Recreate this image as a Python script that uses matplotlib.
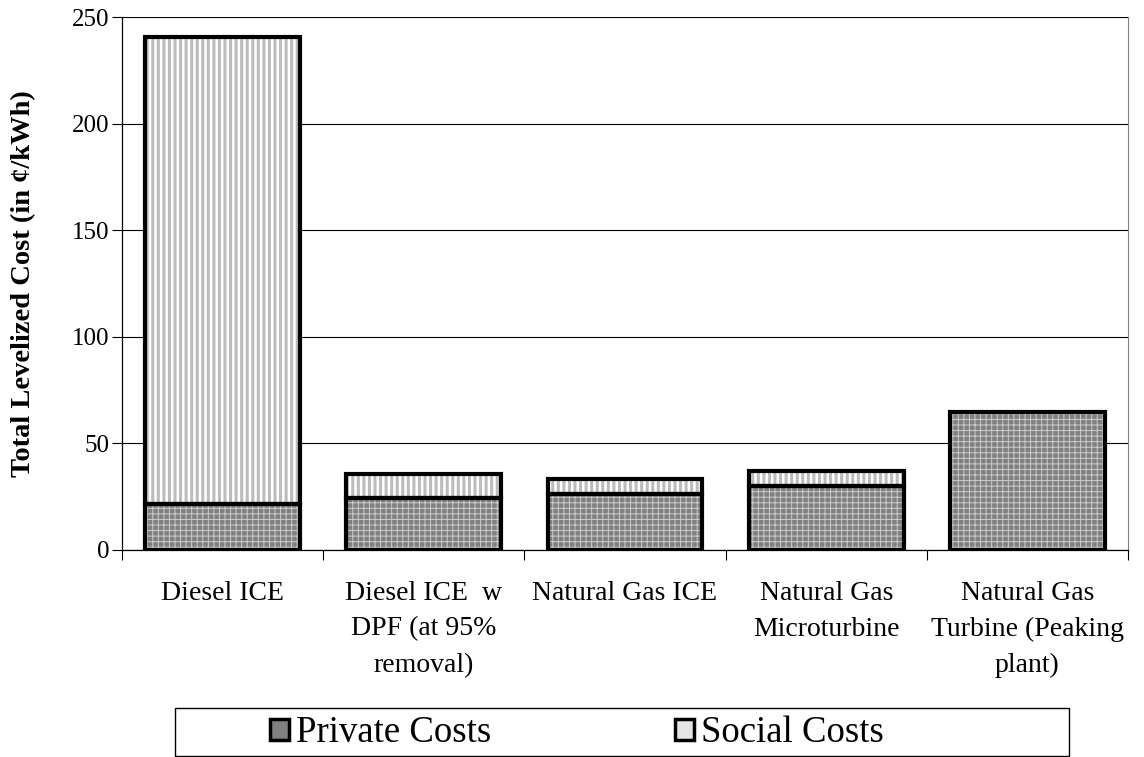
"""Stacked bar chart of levelized generation cost, private vs. social, by technology."""

import matplotlib

matplotlib.use("Agg")

import matplotlib.pyplot as plt
import numpy as np
from matplotlib.patches import Patch, Rectangle

# Technologies along the x axis
technologies = [
    "Diesel ICE",
    "Diesel ICE  w\nDPF (at 95%\nremoval)",
    "Natural Gas ICE",
    "Natural Gas\nMicroturbine",
    "Natural Gas\nTurbine (Peaking\nplant)",
]
# Cost components in cents per kWh
private_costs = [21.5, 24.3, 26.2, 29.9, 64.5]
social_costs = [219.2, 11.2, 7.0, 7.0, 0.0]

y_ticks = [0, 50, 100, 150, 200, 250]

PRIVATE_FACE = "#808080"
PRIVATE_HATCH = "#cccccc"
SOCIAL_FACE = "white"
SOCIAL_HATCH = "#bcbcbc"
BAR_WIDTH = 0.77

plt.rcParams["font.family"] = ["Liberation Serif", "DejaVu Serif"]


def hatched_bar(ax, x, height, bottom, face, hatch_color, hatch, hatch_lw):
    # fill + hatch drawn with no outline; the thick black outline goes on top
    with plt.rc_context({"hatch.linewidth": hatch_lw}):
        bars = ax.bar(x, height, BAR_WIDTH, bottom=bottom, color=face,
                      edgecolor=hatch_color, hatch=hatch, linewidth=0, zorder=2)
    for b in bars:
        if hasattr(b, "set_hatch_linewidth"):
            b.set_hatch_linewidth(hatch_lw)
    ax.bar(x, height, BAR_WIDTH, bottom=bottom, fill=False, edgecolor="black",
           linewidth=3.0, zorder=3)


def main() -> None:
    fig = plt.figure(figsize=(11.44, 7.57), dpi=100)
    ax = fig.add_axes([122 / 1144, 1 - 550 / 757, (1128 - 122) / 1144, (550 - 17) / 757])

    x = np.arange(len(technologies))
    private = np.array(private_costs)
    social = np.array(social_costs)

    for xi, p, s in zip(x, private, social):
        hatched_bar(ax, xi, p, 0, PRIVATE_FACE, PRIVATE_HATCH, "+++", 0.7)
        if s > 0:
            hatched_bar(ax, xi, s, p, SOCIAL_FACE, SOCIAL_HATCH, "|||", 2.2)

    ax.set_xlim(-0.5, len(technologies) - 0.5)
    ax.set_ylim(0, 250)
    ax.set_yticks(y_ticks)
    ax.yaxis.grid(True, color="black", linewidth=0.8)
    ax.set_axisbelow(True)

    # category boundaries get the tick marks, labels sit at bar centres
    ax.set_xticks(np.arange(len(technologies) + 1) - 0.5)
    ax.set_xticklabels([])
    ax.set_xticks(x, minor=True)
    ax.set_xticklabels(technologies, minor=True, fontsize=20, linespacing=1.58,
                       va="top")
    ax.tick_params(axis="x", which="minor", length=0, pad=22)
    ax.tick_params(axis="x", which="major", length=7, width=0.8, direction="out")
    ax.tick_params(axis="y", length=7, width=0.8, labelsize=18, pad=2)

    ax.spines["top"].set_visible(False)
    ax.spines["right"].set_color("#808080")
    ax.spines["right"].set_linewidth(0.8)
    for side in ("left", "bottom"):
        ax.spines[side].set_linewidth(0.9)

    ax.set_ylabel("Total Levelized Cost (in ¢/kWh)", fontsize=20.5, fontweight="bold",
                  labelpad=26)

    # legend box spans below the category labels
    fig.patches.append(Rectangle((175 / 1144, 1 - 756 / 757), (1069 - 175) / 1144,
                                 (756 - 708) / 757, transform=fig.transFigure,
                                 fill=False, edgecolor="black", linewidth=1.0))
    handles = [
        Patch(facecolor=PRIVATE_FACE, edgecolor="black", linewidth=2.5),
        Patch(facecolor="#e4e4e4", edgecolor="black", linewidth=2.5),
    ]
    fig.legend(handles, ["Private Costs", "Social Costs"], loc="center",
               bbox_to_anchor=(577 / 1144, 1 - 733 / 757), ncol=2, frameon=False,
               fontsize=26.5, handlelength=0.5, handleheight=0.5, handletextpad=0.2,
               columnspacing=5.0)

    fig.savefig("out.png", dpi=100)
    plt.close(fig)


if __name__ == "__main__":
    main()
